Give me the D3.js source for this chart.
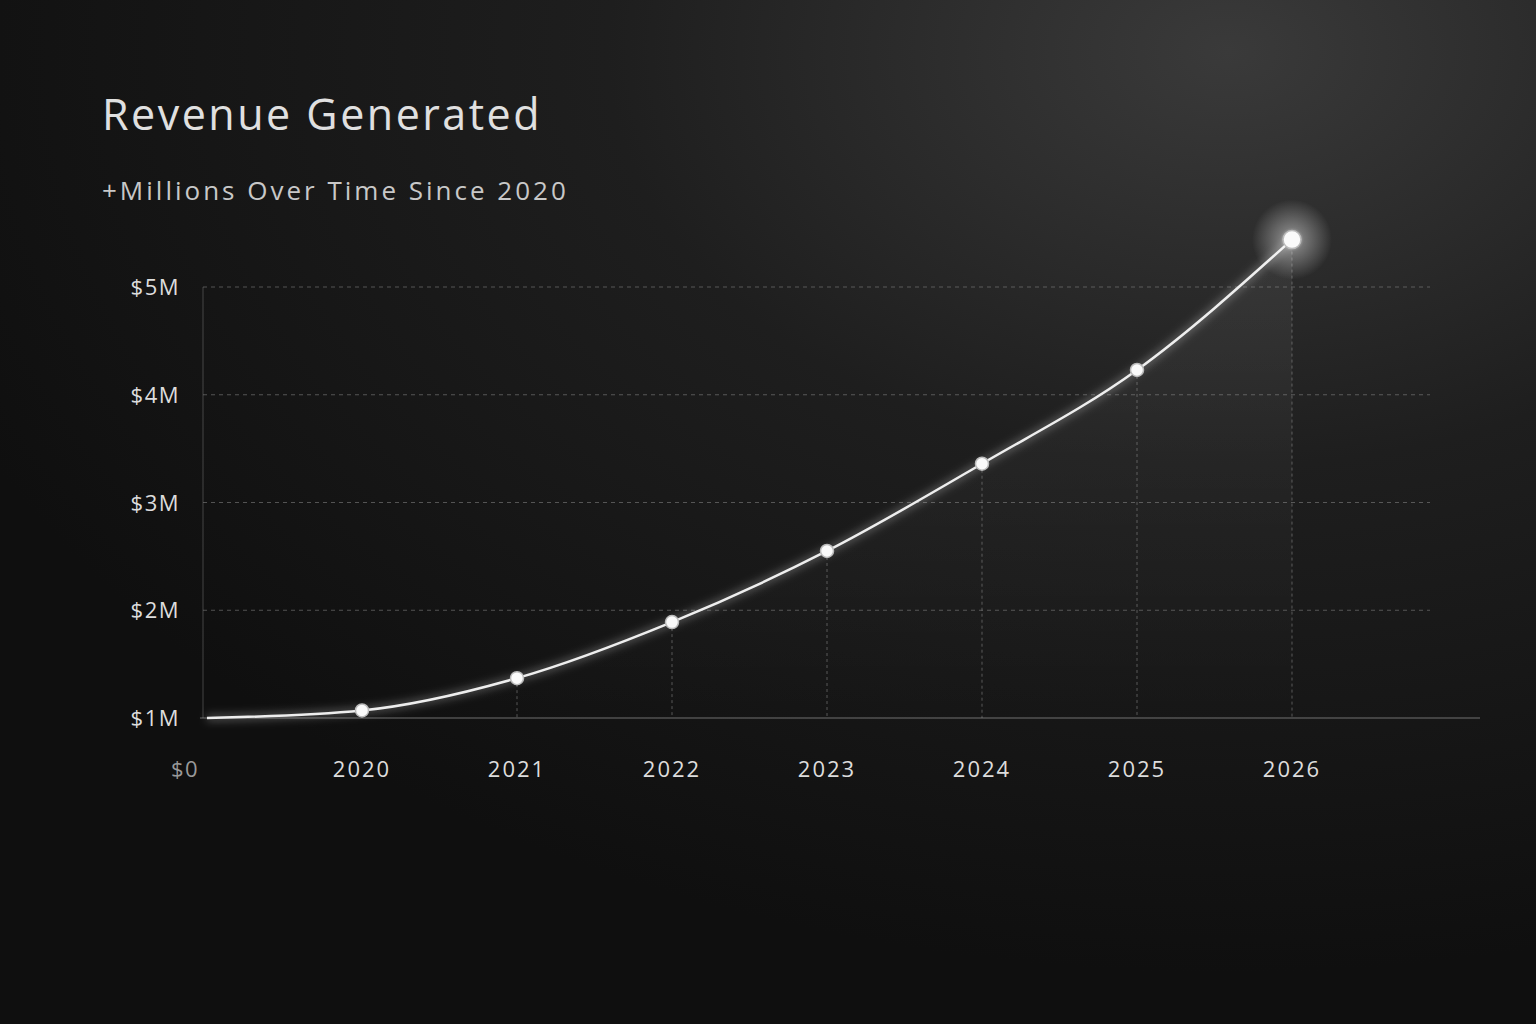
<!DOCTYPE html>
<html><head><meta charset="utf-8">
<script src="https://cdn.jsdelivr.net/npm/d3@7"></script>
<style>body{margin:0;background:#111;}svg{display:block}</style>
</head><body><svg id="c" width="1536" height="1024"></svg>
<script>
const years = [2020, 2021, 2022, 2023, 2024, 2025, 2026];
const revenue = [1.07, 1.37, 1.89, 2.55, 3.36, 4.23, 5.44];
const yTicks = [1, 2, 3, 4, 5];
const yTickLabels = ["$1M", "$2M", "$3M", "$4M", "$5M"];
const startYear = 2019, startValue = 1.0;

const svg = d3.select("#c");
const defs = svg.append("defs");
const bg = defs.append("radialGradient").attr("id","bg").attr("cx","0.8").attr("cy","0.05").attr("r","0.9");
bg.append("stop").attr("offset","0").attr("stop-color","#3a3a3a");
bg.append("stop").attr("offset","0.45").attr("stop-color","#1e1e1e");
bg.append("stop").attr("offset","1").attr("stop-color","#0f0f0f");
const glow = defs.append("radialGradient").attr("id","glow");
glow.append("stop").attr("offset","0").attr("stop-color","#fff").attr("stop-opacity",0.9);
glow.append("stop").attr("offset","0.3").attr("stop-color","#fff").attr("stop-opacity",0.35);
glow.append("stop").attr("offset","1").attr("stop-color","#fff").attr("stop-opacity",0);
const f = defs.append("filter").attr("id","blur").attr("x","-50%").attr("y","-50%").attr("width","200%").attr("height","200%");
f.append("feGaussianBlur").attr("stdDeviation",4);
const area = defs.append("linearGradient").attr("id","area").attr("x1",0).attr("x2",0).attr("y1",0).attr("y2",1);
area.append("stop").attr("offset","0").attr("stop-color","#fff").attr("stop-opacity",0.06);
area.append("stop").attr("offset","1").attr("stop-color","#fff").attr("stop-opacity",0);

svg.append("rect").attr("width",1536).attr("height",1024).attr("fill","url(#bg)");

const x = d3.scaleLinear().domain([2019, 2027]).range([207, 1447]);
const y = d3.scaleLinear().domain([1, 5]).range([718, 287]);
const font = "'Open Sans', Lato, sans-serif";

svg.append("text").attr("x",102).attr("y",130).text("Revenue Generated")
  .attr("fill","#e0e0e0").attr("font-family",font).attr("font-size",43).attr("letter-spacing",2.5);
svg.append("text").attr("x",102).attr("y",200).text("+Millions Over Time Since 2020")
  .attr("fill","#c8c8c8").attr("font-family",font).attr("font-size",26).attr("letter-spacing",3);

svg.selectAll(".g").data(yTicks.slice(1)).join("line")
  .attr("x1",203).attr("x2",1430).attr("y1",d=>y(d)).attr("y2",d=>y(d))
  .attr("stroke","#888").attr("stroke-opacity",0.55).attr("stroke-dasharray","4,4");
svg.append("line").attr("x1",203).attr("x2",203).attr("y1",287).attr("y2",718).attr("stroke","#777").attr("stroke-opacity",0.5);
svg.append("line").attr("x1",200).attr("x2",1480).attr("y1",718).attr("y2",718).attr("stroke","#999").attr("stroke-opacity",0.7);

svg.selectAll(".yl").data(yTicks).join("text")
  .attr("x",180).attr("y",d=>y(d)+8).attr("text-anchor","end")
  .text((d,i)=>yTickLabels[i]).attr("fill","#ddd").attr("font-family",font).attr("font-size",22).attr("letter-spacing",1.5);
svg.append("text").attr("x",185).attr("y",777).attr("text-anchor","middle").text("$0")
  .attr("fill","#999").attr("font-family",font).attr("font-size",22).attr("letter-spacing",1.5);
svg.selectAll(".xl").data(years).join("text")
  .attr("x",d=>x(d)).attr("y",777).attr("text-anchor","middle").text(d=>d)
  .attr("fill","#ddd").attr("font-family",font).attr("font-size",22).attr("letter-spacing",2);

svg.selectAll(".dl").data(years.slice(1)).join("line")
  .attr("x1",d=>x(d)).attr("x2",d=>x(d)).attr("y1",(d,i)=>y(revenue[i+1])).attr("y2",718)
  .attr("stroke","#999").attr("stroke-opacity",0.5).attr("stroke-dasharray","3,3");

const pts = [[startYear,startValue]].concat(years.map((d,i)=>[d,revenue[i]]));
const line = d3.line().x(d=>x(d[0])).y(d=>y(d[1])).curve(d3.curveMonotoneX);
svg.append("path").attr("d", d3.area().x(d=>x(d[0])).y0(718).y1(d=>y(d[1])).curve(d3.curveMonotoneX)(pts)).attr("fill","url(#area)");
svg.append("path").attr("d",line(pts)).attr("fill","none").attr("stroke","#fff").attr("stroke-width",6).attr("stroke-opacity",0.3).attr("filter","url(#blur)");
svg.append("path").attr("d",line(pts)).attr("fill","none").attr("stroke","#eee").attr("stroke-width",2.5);

const last = years.length-1;
svg.append("circle").attr("cx",x(years[last])).attr("cy",y(revenue[last])).attr("r",40).attr("fill","url(#glow)");
svg.selectAll(".p").data(years).join("circle")
  .attr("cx",d=>x(d)).attr("cy",(d,i)=>y(revenue[i])).attr("r",(d,i)=>i===last?9:6.5)
  .attr("fill","#fafafa").attr("stroke","#bbb").attr("stroke-width",1.5);
</script></body></html>
